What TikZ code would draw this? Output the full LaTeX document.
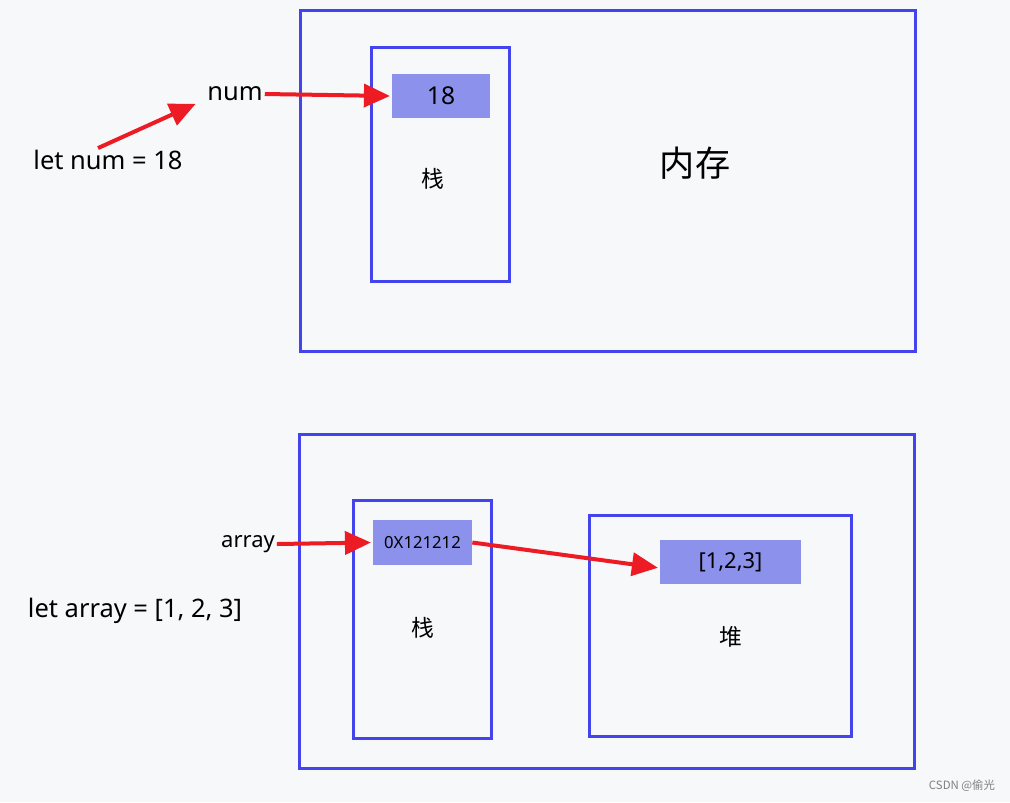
\documentclass[tikz,border=0pt]{standalone}
\usepackage{fontspec}
\setmainfont{Noto Sans}
\newfontfamily\cjk{Noto Sans CJK SC}
\usepackage{xcolor}
\usepackage{tikz}
\usetikzlibrary{arrows.meta, positioning}

\definecolor{bgpaper}{RGB}{247,248,250}
\definecolor{frameblue}{RGB}{68,68,238}
\definecolor{cellblue}{RGB}{140,145,236}
\definecolor{arrowred}{RGB}{237,28,36}

\begin{document}
\begin{tikzpicture}[
        x=0.02cm, y=-0.02cm,
        frame/.style={
            rectangle,
            draw=frameblue,
            line width=0.06cm,
            inner sep=0pt
        },
        cell/.style={
            rectangle,
            fill=cellblue,
            inner sep=0pt,
            minimum height=0.88cm,
            font=\fontsize{14}{16}\selectfont
        },
        label/.style={
            inner sep=1pt,
            font=\fontsize{14.5}{17}\selectfont
        },
        pointer/.style={
            draw=arrowred,
            line width=0.08cm,
            -{Triangle[length=0.52cm, width=0.46cm]},
            shorten >=1pt
        }
    ]

    % background
    \fill[bgpaper] (0,0) rectangle (1010,802);
    \useasboundingbox (0,0) rectangle (1010,802);

    % memory: number
    \node[frame, minimum width=12.32cm, minimum height=6.84cm] (memtop) at (608,181) {};
    \node[frame, minimum width=2.78cm, minimum height=4.7cm] (stacktop) at (440.5,164.5) {};
    \node[cell, minimum width=1.96cm] (numval) at (441,96) {18};
    \node[label, font=\cjk\fontsize{13}{15}\selectfont] at (433,179) {栈};
    \node[font=\cjk\fontsize{20}{24}\selectfont] (memlabel) at (695,163) {内存};

    \node[label] (numname) at (235,94) {num};
    \node[label] (numdecl) at (108,160) {let num = 18};

    % memory: array
    \node[frame, minimum width=12.32cm, minimum height=6.7cm] (membottom) at (607,601.5) {};
    \node[frame, minimum width=2.78cm, minimum height=4.78cm] (stackbottom) at (422.5,619.5) {};
    \node[cell, minimum width=1.98cm, minimum height=0.9cm, font=\fontsize{9.5}{11}\selectfont] (addrval) at (422.5,542.5) {0X121212};
    \node[label, font=\cjk\fontsize{13}{15}\selectfont] at (423,628) {栈};
    \node[frame, minimum width=5.26cm, minimum height=4.44cm] (heap) at (720.5,626) {};
    \node[cell, minimum width=2.82cm, font=\fontsize{12.5}{14}\selectfont] (heapval) at (730.5,562) {[1,2,3]};
    \node[label, font=\cjk\fontsize{13}{15}\selectfont] at (731,637) {堆};

    \node[label, font=\fontsize{12.5}{14}\selectfont] (arrname) at (248,544) {array};
    \node[label] (arrdecl) at (135,611) {let array = [1, 2, 3]};

    \node[text=gray, font=\cjk\fontsize{6.5}{7}\selectfont] (mark) at (962,786) {CSDN @偷光};

    % Relationships
    \draw[pointer] ([xshift=-0.2cm]numdecl.north) -- ([xshift=-0.16cm]numname.south west);
    \draw[pointer] (numname.east) -- (numval.west);
    \draw[pointer] (arrname.east) -- (addrval.west);
    \draw[pointer] (addrval.east) -- ([yshift=-0.12cm]heapval.west);

\end{tikzpicture}
\end{document}
